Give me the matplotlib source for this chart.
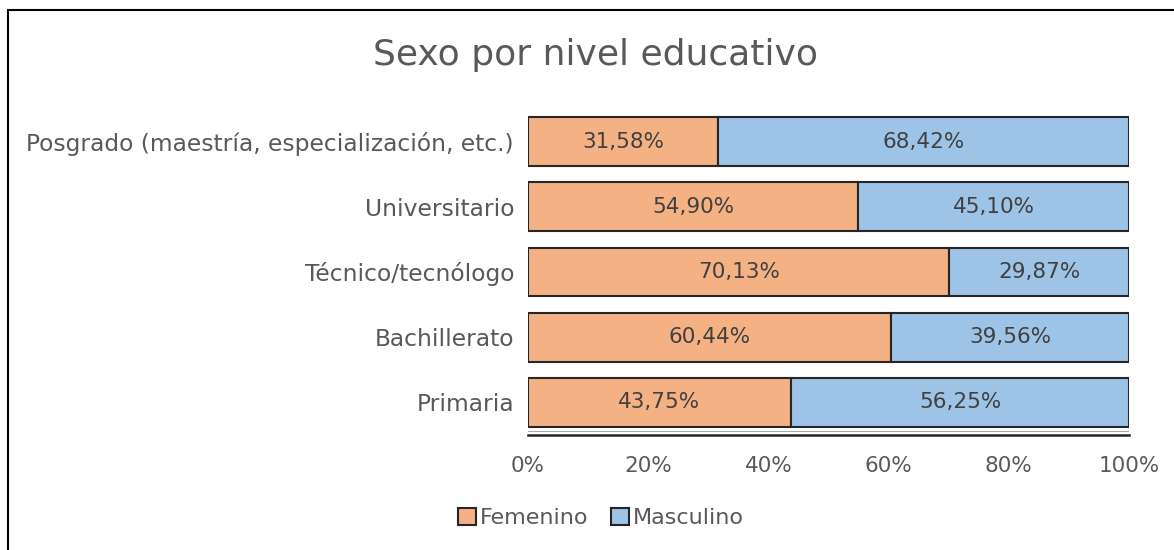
import matplotlib
matplotlib.use('Agg')
import matplotlib.pyplot as plt
import numpy as np

# data (bottom to top)
categories = ['Primaria', 'Bachillerato', 'Técnico/tecnólogo', 'Universitario',
              'Posgrado (maestría, especialización, etc.)']
femenino = [43.75, 60.44, 70.13, 54.90, 31.58]
masculino = [56.25, 39.56, 29.87, 45.10, 68.42]
xticks = [0, 20, 40, 60, 80, 100]

c_fem = '#F4B183'
c_mas = '#9DC3E6'
txt = '#595959'

plt.rcParams['font.family'] = ['DejaVu Sans']

fig = plt.figure(figsize=(11.74, 5.5), dpi=100)
W, H = 1174, 550
ax = fig.add_axes([528 / W, 1 - 435 / H, (1129 - 528) / W, (435 - 109) / H])

y = np.arange(len(categories))
ax.barh(y, femenino, height=0.75, color=c_fem, edgecolor='#262626', linewidth=1.5, label='Femenino')
ax.barh(y, masculino, left=femenino, height=0.75, color=c_mas, edgecolor='#262626', linewidth=1.5,
        label='Masculino')

fs = 15.5
for i in range(len(categories)):
    ax.text(femenino[i] / 2, y[i], f"{femenino[i]:.2f}%".replace('.', ','), ha='center', va='center',
            fontsize=fs, color='#404040')
    ax.text(femenino[i] + masculino[i] / 2, y[i], f"{masculino[i]:.2f}%".replace('.', ','),
            ha='center', va='center', fontsize=fs, color='#404040')

ax.set_xlim(0, 100)
ax.set_ylim(-0.5, len(categories) - 0.5)
ax.set_yticks(y)
ax.set_yticklabels(categories, fontsize=16.8, color=txt)
ax.set_xticks(xticks)
ax.set_xticklabels([f"{v}%" for v in xticks], fontsize=fs, color=txt)
ax.tick_params(axis='both', length=0)
ax.tick_params(axis='x', pad=15)
ax.tick_params(axis='y', pad=10)
for s in ['top', 'right', 'left']:
    ax.spines[s].set_visible(False)
ax.spines['bottom'].set_color('#262626')
ax.spines['bottom'].set_linewidth(1.8)
# thin grey line just above the axis line
ax.axhline(-0.5 + 4 / 65, color='#A6A6A6', linewidth=0.8)

fig.text(596 / W, 1 - 55 / H, 'Sexo por nivel educativo', ha='center', va='center',
         fontsize=26, color=txt)

fig.legend(loc='center', bbox_to_anchor=(601 / W, 1 - 518 / H), ncol=2, frameon=False,
           fontsize=16, handlelength=0.8, handleheight=0.8, handletextpad=0.2, columnspacing=1.0,
           labelcolor=txt)
leg = fig.legends[0]
for p in leg.get_patches():
    p.set_linewidth(1.5)

# chart frame
fig.patches.append(plt.Rectangle((8 / W, -0.1), 1.2, 1 - 10 / H + 0.1, transform=fig.transFigure,
                                 fill=False, edgecolor='black', linewidth=1.5))

fig.savefig('out.png', dpi=100)
